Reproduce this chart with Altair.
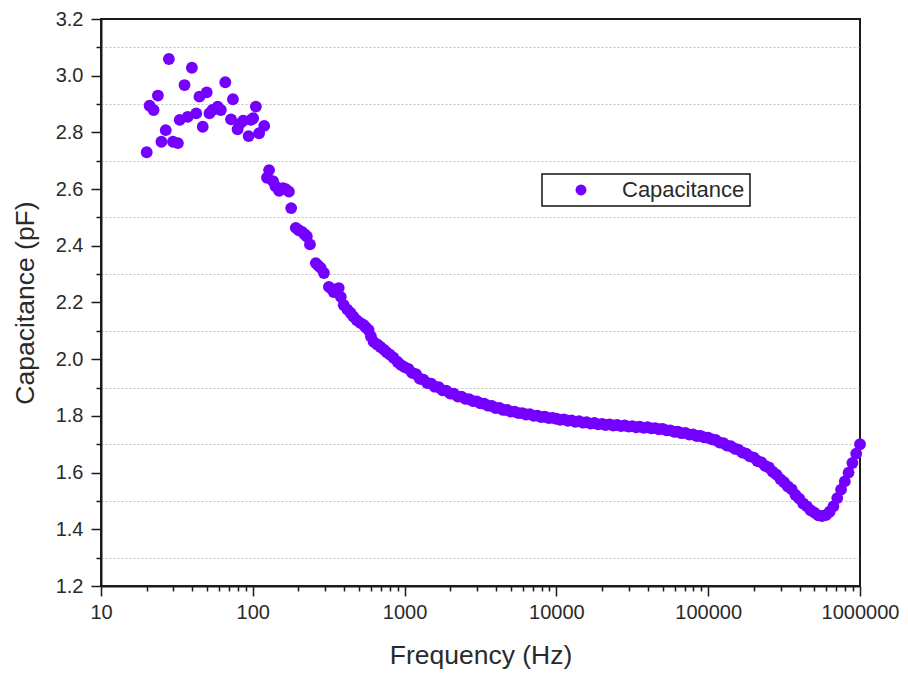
import altair as alt
import pandas as pd

# ---- data ----
freq_low = [20.0, 20.9, 22.2, 23.7, 25.0, 26.7, 28.0, 29.8, 32.1, 33.0,
            35.5, 37.3, 39.7, 42.4, 44.5, 46.8, 49.7, 51.8, 54.2, 58.7,
            61.6, 65.9, 71.9, 74.0, 79.4, 82.0, 86.5, 93.8, 97.3, 100.5,
            104.8, 110.0, 118.9]
cap_low = [2.730, 2.894, 2.879, 2.930, 2.767, 2.808, 3.059, 2.767, 2.762, 2.844,
           2.967, 2.855, 3.028, 2.867, 2.926, 2.820, 2.941, 2.867, 2.879, 2.891,
           2.879, 2.977, 2.846, 2.917, 2.811, 2.830, 2.841, 2.787, 2.844, 2.850,
           2.891, 2.797, 2.823]

freq_mid = [124, 128, 136, 141, 149, 158, 165, 173, 179, 192,
            201, 211, 220, 227, 238, 260, 270, 280, 294, 317,
            330, 341, 368, 380, 397, 420, 441, 460, 483, 510,
            537, 555, 579, 600, 625, 660, 694, 730, 760, 800,
            845, 900, 945]
cap_mid = [2.640, 2.667, 2.628, 2.610, 2.594, 2.603, 2.600, 2.591, 2.533, 2.463,
           2.455, 2.449, 2.440, 2.433, 2.405, 2.339, 2.330, 2.322, 2.304, 2.255,
           2.248, 2.237, 2.251, 2.220, 2.191, 2.175, 2.163, 2.150, 2.138, 2.128,
           2.121, 2.112, 2.103, 2.080, 2.061, 2.052, 2.043, 2.034, 2.025, 2.016,
           2.005, 1.990, 1.980]

freq_k = [1000, 1060, 1120, 1190, 1260, 1330, 1410, 1500, 1580, 1680,
          1780, 1880, 2000, 2110, 2240, 2370, 2510, 2660, 2820, 2990,
          3160, 3350, 3550, 3760, 3980, 4220, 4470, 4730, 5010, 5310,
          5620, 5960, 6310, 6680, 7080, 7500, 7940, 8410, 8910, 9440]
cap_k = [1.972, 1.966, 1.952, 1.947, 1.931, 1.928, 1.916, 1.914, 1.903, 1.901,
         1.890, 1.889, 1.879, 1.878, 1.868, 1.868, 1.860, 1.859, 1.852, 1.851,
         1.844, 1.843, 1.836, 1.835, 1.828, 1.828, 1.821, 1.821, 1.815, 1.815,
         1.810, 1.810, 1.805, 1.806, 1.800, 1.801, 1.796, 1.797, 1.792, 1.793]

freq_10k = [10000, 10600, 11200, 11900, 12600, 13300, 14100, 15000, 15800, 16800,
            17800, 18800, 20000, 21100, 22400, 23700, 25100, 26600, 28200, 29900,
            31600, 33500, 35500, 37600, 39800, 42200, 44700, 47300, 50100, 53100,
            56200, 59600, 63100, 66800, 70800, 75000, 79400, 84100, 89100, 94400]
cap_10k = [1.790, 1.786, 1.788, 1.783, 1.784, 1.779, 1.781, 1.776, 1.778, 1.773,
           1.775, 1.770, 1.772, 1.768, 1.770, 1.766, 1.768, 1.764, 1.766, 1.762,
           1.764, 1.760, 1.762, 1.758, 1.760, 1.756, 1.757, 1.753, 1.754, 1.749,
           1.749, 1.744, 1.744, 1.739, 1.740, 1.734, 1.735, 1.729, 1.729, 1.724]

freq_100k = [100000, 106000, 112000, 119000, 126000, 133000, 141000, 150000, 158000, 168000,
             178000, 188000, 200000, 211000, 224000, 237000, 251000, 266000, 282000, 299000,
             316000, 335000, 355000, 376000, 398000, 422000, 447000, 473000, 501000, 531000,
             562000, 596000, 631000, 668000, 708000, 750000, 794000, 841000, 891000, 944000,
             1000000]
cap_100k = [1.723, 1.717, 1.715, 1.706, 1.704, 1.695, 1.693, 1.684, 1.681, 1.671,
            1.667, 1.657, 1.653, 1.641, 1.636, 1.624, 1.618, 1.603, 1.593, 1.577,
            1.566, 1.551, 1.541, 1.521, 1.508, 1.491, 1.481, 1.467, 1.459, 1.449,
            1.447, 1.450, 1.462, 1.481, 1.510, 1.540, 1.569, 1.600, 1.634, 1.667,
            1.700]

x_major = [10, 100, 1000, 10000, 100000, 1000000]
x_minor = [20, 30, 40, 50, 60, 70, 80, 90,
           200, 300, 400, 500, 600, 700, 800, 900,
           2000, 3000, 4000, 5000, 6000, 7000, 8000, 9000,
           20000, 30000, 40000, 50000, 60000, 70000, 80000, 90000,
           200000, 300000, 400000, 500000, 600000, 700000, 800000, 900000]
y_major = [1.2, 1.4, 1.6, 1.8, 2.0, 2.2, 2.4, 2.6, 2.8, 3.0, 3.2]
y_minor = [1.3, 1.5, 1.7, 1.9, 2.1, 2.3, 2.5, 2.7, 2.9, 3.1]

freqs = freq_low + freq_mid + freq_k + freq_10k + freq_100k
caps = cap_low + cap_mid + cap_k + cap_10k + cap_100k
df = pd.DataFrame({"f": freqs, "c": caps, "series": ["Capacitance"] * len(freqs)})

FONT = "Liberation Sans"
TXT = "#2a2a2a"
DOT = "#7400FF"
LABEL_SIZE = 20
TITLE_SIZE = 26.5

xscale = alt.Scale(type="log", domain=[10, 1000000], nice=False)
yscale = alt.Scale(domain=[1.2, 3.2], nice=False, zero=False)

base = alt.Chart(df)

minor = base.mark_point(opacity=0).encode(
    x=alt.X("f:Q", scale=xscale,
            axis=alt.Axis(orient="bottom", values=x_minor, labels=False, title=None,
                          domain=False, grid=False, tickSize=5, tickWidth=1.5,
                          tickColor="#1a1a1a")),
    y=alt.Y("c:Q", scale=yscale,
            axis=alt.Axis(orient="left", values=y_minor, labels=False, title=None,
                          domain=False, grid=True, gridColor="#c2c2c2",
                          gridDash=[2, 2], gridWidth=1, tickSize=5, tickWidth=1.5,
                          tickColor="#1a1a1a")),
)

points = base.mark_circle(size=140, opacity=1).encode(
    x=alt.X("f:Q", scale=xscale,
            axis=alt.Axis(orient="bottom", values=x_major, format="d",
                          title="Frequency (Hz)", grid=False, tickSize=10,
                          tickWidth=1.5, labelPadding=6, titlePadding=20,
                          labelFlush=False, labelOverlap=False,
                          labelFont=FONT, labelFontSize=LABEL_SIZE, labelColor=TXT,
                          titleFont=FONT, titleFontSize=TITLE_SIZE,
                          titleFontWeight="normal", titleColor=TXT)),
    y=alt.Y("c:Q", scale=yscale,
            axis=alt.Axis(orient="left", values=y_major, format=".1f",
                          title="Capacitance (pF)", grid=False, tickSize=10,
                          tickWidth=1.5, labelPadding=8, titlePadding=16,
                          labelFlush=False, labelOverlap=False,
                          labelFont=FONT, labelFontSize=LABEL_SIZE, labelColor=TXT,
                          titleFont=FONT, titleFontSize=TITLE_SIZE,
                          titleFontWeight="normal", titleColor=TXT)),
    color=alt.Color("series:N", scale=alt.Scale(range=[DOT]),
                    legend=alt.Legend(title=None, orient="none", legendX=441,
                                      legendY=155, padding=5, fillColor="white",
                                      strokeColor="#111", symbolType="circle",
                                      symbolSize=120, symbolOffset=23,
                                      labelOffset=30, labelFontSize=22,
                                      labelFont=FONT, labelColor=TXT,
                                      symbolStrokeWidth=0, symbolOpacity=1)),
)

chart = alt.layer(minor, points).resolve_axis(
    x="independent", y="independent"
).properties(
    width=759, height=567,
    autosize=alt.AutoSizeParams(type="none"),
    padding={"left": 93, "top": 11, "right": 40, "bottom": 85},
).configure_view(
    stroke="#1a1a1a", strokeWidth=2
).configure_axis(
    domainColor="#1a1a1a", domainWidth=2, tickColor="#1a1a1a",
).configure_legend(
    strokeWidth=1.5
)

chart.save("out.html", embed_options={"renderer": "svg", "actions": False})
